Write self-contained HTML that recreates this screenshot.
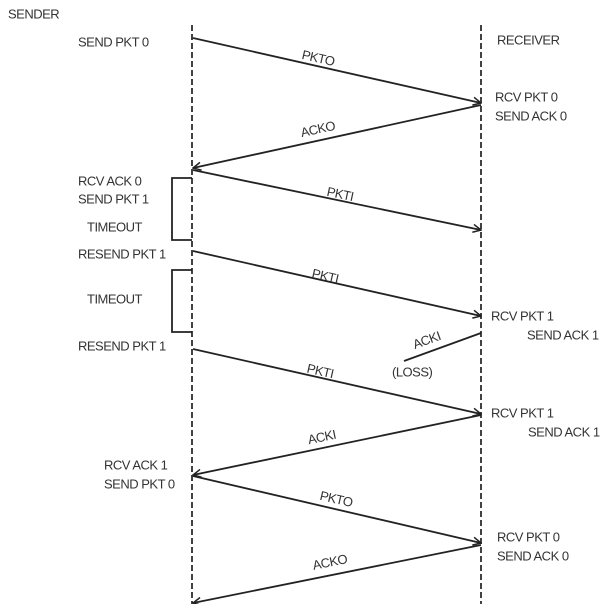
<!DOCTYPE html>
<html><head><meta charset="utf-8"><style>
html,body{margin:0;padding:0;background:#fff;}
svg{display:block;}
text{font-family:"Liberation Sans",sans-serif;font-size:13px;fill:#333;dominant-baseline:middle;letter-spacing:-0.5px;}
</style></head><body>
<svg width="615" height="604" viewBox="0 0 615 604" xmlns="http://www.w3.org/2000/svg">
<defs><marker id="a" markerWidth="10" markerHeight="10" refX="9" refY="5" orient="auto" markerUnits="userSpaceOnUse"><path d="M1,1 L9,5 L1,9" fill="none" stroke="#222" stroke-width="1.5"/></marker></defs>
<g stroke="#222" stroke-width="1.7" stroke-dasharray="6,3" fill="none">
<line x1="192" y1="25" x2="192" y2="604"/>
<line x1="481" y1="25" x2="481" y2="604"/>
</g>
<g stroke="#222" stroke-width="1.8" fill="none">
<line x1="193" y1="38" x2="481" y2="103" marker-end="url(#a)"/>
<line x1="481" y1="105" x2="193" y2="168" marker-end="url(#a)"/>
<line x1="193" y1="170" x2="481" y2="230" marker-end="url(#a)"/>
<line x1="193" y1="251" x2="481" y2="316" marker-end="url(#a)"/>
<line x1="481" y1="333" x2="404" y2="361"/>
<line x1="193" y1="349" x2="481" y2="414" marker-end="url(#a)"/>
<line x1="481" y1="415" x2="193" y2="475" marker-end="url(#a)"/>
<line x1="193" y1="476" x2="481" y2="543" marker-end="url(#a)"/>
<line x1="481" y1="545" x2="193" y2="603" marker-end="url(#a)"/>
<polyline points="192,178 172,178 172,240 192,240"/>
<polyline points="192,270 172,270 172,332 192,332"/>
</g>
<text x="8" y="15">SENDER</text>
<text x="78" y="43">SEND PKT 0</text>
<text x="497" y="41">RECEIVER</text>
<text x="495" y="98">RCV PKT 0</text>
<text x="495" y="117">SEND ACK 0</text>
<text x="78" y="182">RCV ACK 0</text>
<text x="78" y="200">SEND PKT 1</text>
<text x="87" y="228">TIMEOUT</text>
<text x="78" y="255">RESEND PKT 1</text>
<text x="87" y="300">TIMEOUT</text>
<text x="491" y="317">RCV PKT 1</text>
<text x="527" y="336">SEND ACK 1</text>
<text x="78" y="347">RESEND PKT 1</text>
<text x="392" y="373">(LOSS)</text>
<text x="491" y="414">RCV PKT 1</text>
<text x="528" y="433">SEND ACK 1</text>
<text x="104" y="466">RCV ACK 1</text>
<text x="104" y="485">SEND PKT 0</text>
<text x="497" y="538">RCV PKT 0</text>
<text x="497" y="557">SEND ACK 0</text>
<text transform="translate(318,59) rotate(12.7)" text-anchor="middle">PKTO</text>
<text transform="translate(318,130) rotate(-12.3)" text-anchor="middle">ACKO</text>
<text transform="translate(340,195) rotate(11.8)" text-anchor="middle">PKTI</text>
<text transform="translate(325,277) rotate(12.7)" text-anchor="middle">PKTI</text>
<text transform="translate(427,341) rotate(-20)" text-anchor="middle">ACKI</text>
<text transform="translate(320,372) rotate(12.7)" text-anchor="middle">PKTI</text>
<text transform="translate(322,438) rotate(-11.8)" text-anchor="middle">ACKI</text>
<text transform="translate(336,500) rotate(13)" text-anchor="middle">PKTO</text>
<text transform="translate(330,563) rotate(-11.4)" text-anchor="middle">ACKO</text>
</svg>
</body></html>
